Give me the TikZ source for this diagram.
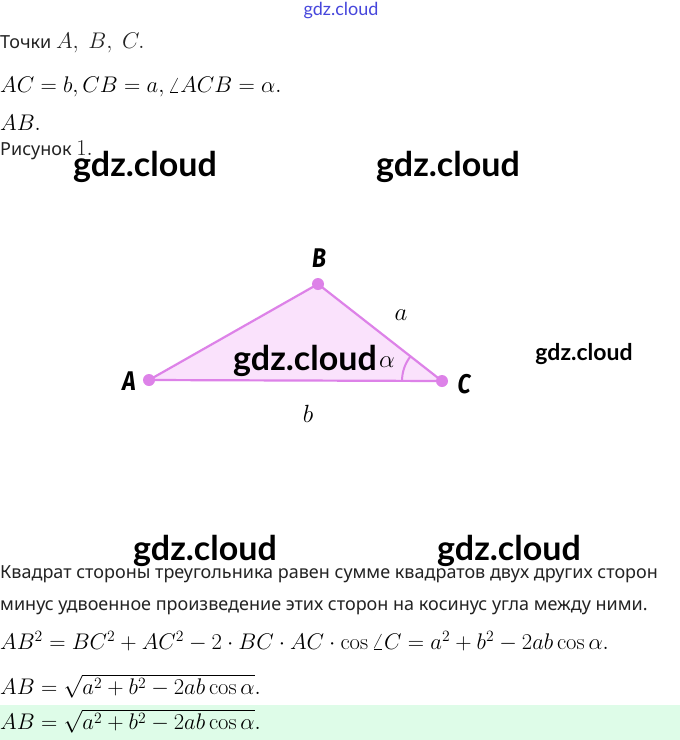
\documentclass[tikz,border=0pt]{standalone}
\usepackage{graphicx}
\usepackage[no-math]{fontspec}
\setmainfont{Noto Sans}
\newfontfamily\wmfont{Lato}
\newfontfamily\lblfont{Fira Sans}
\usetikzlibrary{calc}
\definecolor{triline}{RGB}{221,130,232}
\definecolor{trifill}{RGB}{250,226,252}
\definecolor{bandgreen}{RGB}{222,252,232}
\definecolor{textgray}{RGB}{35,35,35}
\definecolor{wmblue}{RGB}{70,70,220}
\tikzset{
  line/.style={anchor=west,inner sep=0pt,text=textgray,font=\fontsize{18}{20}\selectfont},
  mathline/.style={anchor=west,inner sep=0pt},
  wm/.style={inner sep=0pt,font=\wmfont\bfseries\fontsize{34}{40}\selectfont},
  wmsmall/.style={inner sep=0pt,font=\wmfont\bfseries\fontsize{23}{28}\selectfont},
  vlabel/.style={inner sep=0pt,xscale=0.85,font=\lblfont\bfseries\itshape\fontsize{27}{30}\selectfont},
  slabel/.style={inner sep=0pt,font=\fontsize{28}{30}\selectfont},
  dot/.style={circle,fill=triline,inner sep=0pt,minimum size=12pt},
}
\newcommand{\mybigmath}[1]{\scalebox{1.09}{\fontsize{20.74}{24}\selectfont$#1$}}
\begin{document}
\begin{tikzpicture}[x=1pt,y=-1pt]
\fill[white] (0,0) rectangle (680,740);
\useasboundingbox (0,0) rectangle (680,740);
\fill[bandgreen] (0,705) rectangle (680,740);
% top watermark
\node[inner sep=0pt,text=wmblue,font=\wmfont\fontsize{18}{20}\selectfont] (wm0) at (341,11) {gdz.cloud};
% text lines
\node[line] (t1) at (0,43) {Точки \mybigmath{A,\ B,\ C.}};
\node[mathline] (t2) at (0,87) {\mybigmath{AC=b, CB=a, \angle ACB=\alpha.}};
\node[mathline] (t3) at (0,123) {\mybigmath{AB.}};
\node[line] (t4) at (0,150) {Рисунок \mybigmath{1.}};
% triangle
\coordinate (A) at (149,380);
\coordinate (B) at (318,284);
\coordinate (C) at (442,381);
\fill[trifill] (A) -- (B) -- (C) -- cycle;
\draw[triline,line width=2.2pt,line join=round] (A) -- (B) -- (C) -- cycle;
\draw[triline,line width=2pt] ($(C)+(-40,0)$) arc[start angle=180,end angle=142,radius=40pt];
\node[dot] (dA) at (A) {};
\node[dot] (dB) at (B) {};
\node[dot] (dC) at (C) {};
\node[vlabel] (lA) at (129,381) {A};
\node[vlabel] (lB) at (319,258) {B};
\node[vlabel] (lC) at (464,384) {C};
\node[slabel] (la) at (401,315) {$a$};
\node[slabel] (lb) at (308,414) {$b$};
\node[slabel,font=\fontsize{24}{26}\selectfont] (lal) at (387,362) {$\alpha$};
% watermarks
\node[wm] (w1) at (145,167) {gdz.cloud};
\node[wm] (w2) at (448,167) {gdz.cloud};
\node[wm] (w3) at (305,361) {gdz.cloud};
\node[wmsmall] (w4) at (584,354) {gdz.cloud};
% bottom text
\node[line] (b1) at (0,574) {Квадрат стороны треугольника равен сумме квадратов двух других сторон};
\node[line] (b2) at (0,608) {минус удвоенное произведение этих сторон на косинус угла между ними.};
\node[wm] (w5) at (205,551) {gdz.cloud};
\node[wm] (w6) at (509,551) {gdz.cloud};
\node[mathline] (m1) at (0,641) {\mybigmath{AB^2=BC^2+AC^2-2\cdot BC\cdot AC\cdot\cos\angle C=a^2+b^2-2ab\cos\alpha.}};
\node[mathline] (m2) at (0,686) {\mybigmath{AB=\sqrt{a^2+b^2-2ab\cos\alpha}.}};
\node[mathline] (m3) at (0,721) {\mybigmath{AB=\sqrt{a^2+b^2-2ab\cos\alpha}.}};
\end{tikzpicture}
\end{document}
